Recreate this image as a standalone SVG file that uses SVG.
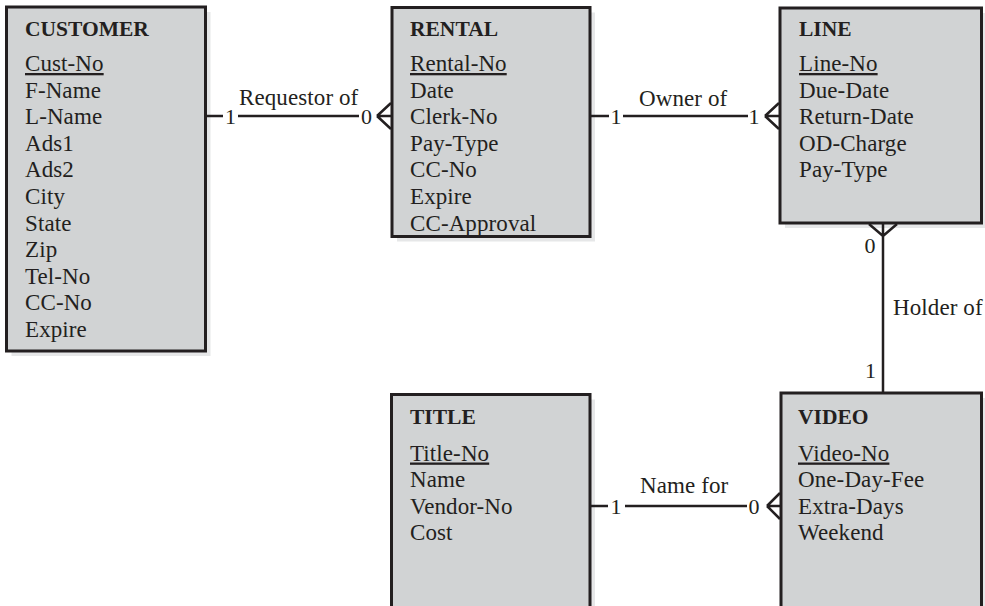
<svg xmlns="http://www.w3.org/2000/svg" width="985" height="606" viewBox="0 0 985 606">
<style>
.shadow{fill:#e6e7e8;stroke:none}
.box{fill:#d1d3d4;stroke:#231f20;stroke-width:3}
.ttl{font-family:"Liberation Serif","Times New Roman",serif;font-weight:bold;font-size:21.5px;fill:#231f20}
.att{font-family:"Liberation Serif","Times New Roman",serif;font-size:23px;letter-spacing:0.1px;fill:#231f20}
.key{text-decoration:underline}
.lbl{font-family:"Liberation Serif","Times New Roman",serif;font-size:23px;letter-spacing:0.1px;fill:#231f20}
.card{font-family:"Liberation Serif","Times New Roman",serif;font-size:22px;fill:#231f20;text-anchor:middle}
.conn{stroke:#231f20;stroke-width:2.5;fill:none}
</style>
<rect width="985" height="606" fill="#ffffff"/>

<g id="customer">
<rect class="shadow" x="11.5" y="12" width="199" height="344"/>
<rect class="box" x="6.5" y="7" width="199" height="344"/>
<text class="ttl" x="25" y="36">CUSTOMER</text>
<text class="att key" x="25" y="71">Cust-No</text>
<text class="att" x="25" y="97.6">F-Name</text>
<text class="att" x="25" y="124.2">L-Name</text>
<text class="att" x="25" y="150.8">Ads1</text>
<text class="att" x="25" y="177.4">Ads2</text>
<text class="att" x="25" y="204">City</text>
<text class="att" x="25" y="230.6">State</text>
<text class="att" x="25" y="257.2">Zip</text>
<text class="att" x="25" y="283.8">Tel-No</text>
<text class="att" x="25" y="310.4">CC-No</text>
<text class="att" x="25" y="337">Expire</text>
</g>

<g id="rental">
<rect class="shadow" x="397" y="12.5" width="198" height="229"/>
<rect class="box" x="392" y="7.5" width="198" height="229"/>
<text class="ttl" x="410" y="36">RENTAL</text>
<text class="att key" x="410" y="71">Rental-No</text>
<text class="att" x="410" y="97.6">Date</text>
<text class="att" x="410" y="124.2">Clerk-No</text>
<text class="att" x="410" y="150.8">Pay-Type</text>
<text class="att" x="410" y="177.4">CC-No</text>
<text class="att" x="410" y="204">Expire</text>
<text class="att" x="410" y="230.6">CC-Approval</text>
</g>

<g id="line">
<rect class="shadow" x="785" y="13" width="201.5" height="215"/>
<rect class="box" x="780" y="8" width="201.5" height="215"/>
<text class="ttl" x="799" y="36">LINE</text>
<text class="att key" x="799" y="71">Line-No</text>
<text class="att" x="799" y="97.6">Due-Date</text>
<text class="att" x="799" y="124.2">Return-Date</text>
<text class="att" x="799" y="150.8">OD-Charge</text>
<text class="att" x="799" y="177.4">Pay-Type</text>
</g>

<g id="title">
<rect class="shadow" x="396.5" y="399.5" width="198.5" height="240"/>
<rect class="box" x="391.5" y="394.5" width="198.5" height="240"/>
<text class="ttl" x="410" y="424">TITLE</text>
<text class="att key" x="410" y="460.5">Title-No</text>
<text class="att" x="410" y="487.1">Name</text>
<text class="att" x="410" y="513.7">Vendor-No</text>
<text class="att" x="410" y="540.3">Cost</text>
</g>

<g id="video">
<rect class="shadow" x="786" y="398" width="200.5" height="240"/>
<rect class="box" x="781" y="393" width="200.5" height="240"/>
<text class="ttl" x="798" y="424">VIDEO</text>
<text class="att key" x="798" y="460.5">Video-No</text>
<text class="att" x="798" y="487.1">One-Day-Fee</text>
<text class="att" x="798" y="513.7">Extra-Days</text>
<text class="att" x="798" y="540.3">Weekend</text>
</g>

<g id="connectors">
<!-- Customer - Rental -->
<path class="conn" d="M207 116H223M238 116H359M377 116H391M377 116L391 103M377 116L391 129"/>
<text class="card" x="230.5" y="123.5">1</text>
<text class="card" x="366.5" y="123.5">0</text>
<text class="lbl" x="239" y="105">Requestor of</text>

<!-- Rental - Line -->
<path class="conn" d="M591 116H609M623 116H748M765 116H779M765 116L779 103M765 116L779 129"/>
<text class="card" x="616" y="123.5">1</text>
<text class="card" x="754" y="123.5">1</text>
<text class="lbl" x="639" y="106">Owner of</text>

<!-- Line - Video -->
<path class="conn" d="M883 224V392M883 236L869 224M883 236L897 224"/>
<text class="card" x="870" y="253">0</text>
<text class="card" x="870.5" y="378">1</text>
<text class="lbl" x="893" y="315">Holder of</text>

<!-- Title - Video -->
<path class="conn" d="M591 506H608M625 506H747M767 506H780M767 506L780 493M767 506L780 519"/>
<text class="card" x="616" y="513.5">1</text>
<text class="card" x="754" y="513.5">0</text>
<text class="lbl" x="640" y="493">Name for</text>
</g>
</svg>
